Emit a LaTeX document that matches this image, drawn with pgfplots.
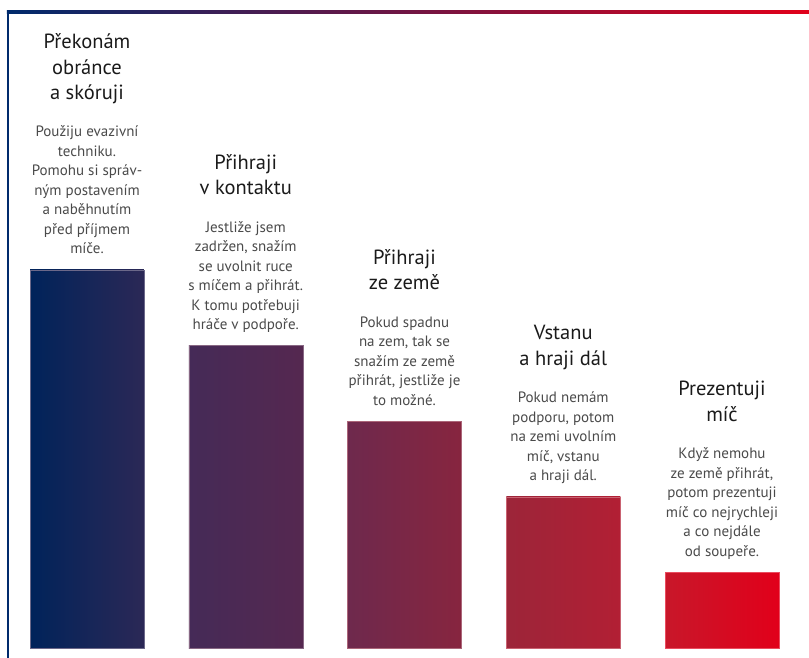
\documentclass[border=0pt]{standalone}
\usepackage{pgfplots}
\pgfplotsset{compat=1.18}
\usepackage{fontspec}
\setmainfont{PT Sans}
\definecolor{navy}{HTML}{002A6C}
\definecolor{redc}{HTML}{E1001A}
\definecolor{bAl}{HTML}{00235A}\definecolor{bAr}{HTML}{2B2856}
\definecolor{bBl}{HTML}{452A57}\definecolor{bBr}{HTML}{552850}
\definecolor{bCl}{HTML}{6E294D}\definecolor{bCr}{HTML}{87253F}
\definecolor{bDl}{HTML}{9C2539}\definecolor{bDr}{HTML}{B21F34}
\definecolor{bEl}{HTML}{C8172A}\definecolor{bEr}{HTML}{E1001A}
\definecolor{titlec}{HTML}{1A1A1A}
\definecolor{descc}{HTML}{4A4A4A}
\tikzset{
  desc/.style={anchor=south, inner sep=0pt, align=center, text=descc,
    font=\fontsize{15}{19.5}\selectfont, yshift=10pt},
  ttl/.style={anchor=south, inner sep=0pt, align=center, text=titlec,
    font=\fontsize{20.5}{25.5}\selectfont, yshift=15.7pt},
}
\begin{document}
\begin{tikzpicture}
\begin{axis}[
  width=809pt, height=658pt, scale only axis,
  axis lines=none,
  xmin=-0.548, xmax=4.548, ymin=-0.132, ymax=8.571,
  clip=false,
]
\path (rel axis cs:0,0) rectangle (rel axis cs:1,1);
\shade[left color=navy, right color=redc] (axis cs:-0.504,8.398) rectangle (axis cs:4.548,8.428);
\fill[navy] (axis cs:-0.504,8.428) rectangle (axis cs:-0.491,-0.132);
\addplot[ybar, bar width=0.718, bar shift=0pt, draw=bAr!70!white, line width=0.4pt, left color=bAl, right color=bAr] coordinates {(0,5)};
\addplot[ybar, bar width=0.718, bar shift=0pt, draw=bBr!70!white, line width=0.4pt, left color=bBl, right color=bBr] coordinates {(1,4)};
\addplot[ybar, bar width=0.718, bar shift=0pt, draw=bCr!70!white, line width=0.4pt, left color=bCl, right color=bCr] coordinates {(2,3)};
\addplot[ybar, bar width=0.718, bar shift=0pt, draw=bDr!70!white, line width=0.4pt, left color=bDl, right color=bDr] coordinates {(3,2)};
\addplot[ybar, bar width=0.718, bar shift=0pt, draw=bEr!70!white, line width=0.4pt, left color=bEl, right color=bEr] coordinates {(4,1)};
\node[desc] (d0) at (axis cs:0,5) {\strut Použiju evazivní\\techniku.\\Pomohu si správ-\\ným postavením\\a naběhnutím\\před příjmem\\míče.\strut};
\node[ttl] at (d0.north) {Překonám\\obránce\\a skóruji\strut};
\node[desc] (d1) at (axis cs:1,4) {\strut Jestliže jsem\\zadržen, snažím\\se uvolnit ruce\\s míčem a přihrát.\\K tomu potřebuji\\hráče v podpoře.\strut};
\node[ttl] at (d1.north) {Přihraji\\v kontaktu\strut};
\node[desc] (d2) at (axis cs:2,3) {\strut Pokud spadnu\\na zem, tak se\\snažím ze země\\přihrát, jestliže je\\to možné.\strut};
\node[ttl] at (d2.north) {Přihraji\\ze země\strut};
\node[desc] (d3) at (axis cs:3,2) {\strut Pokud nemám\\podporu, potom\\na zemi uvolním\\míč, vstanu\\a hraji dál.\strut};
\node[ttl] at (d3.north) {Vstanu\\a hraji dál\strut};
\node[desc] (d4) at (axis cs:4,1) {\strut Když nemohu\\ze země přihrát,\\potom prezentuji\\míč co nejrychleji\\a co nejdále\\od soupeře.\strut};
\node[ttl] at (d4.north) {Prezentuji\\míč\strut};
\end{axis}
\end{tikzpicture}
\end{document}
